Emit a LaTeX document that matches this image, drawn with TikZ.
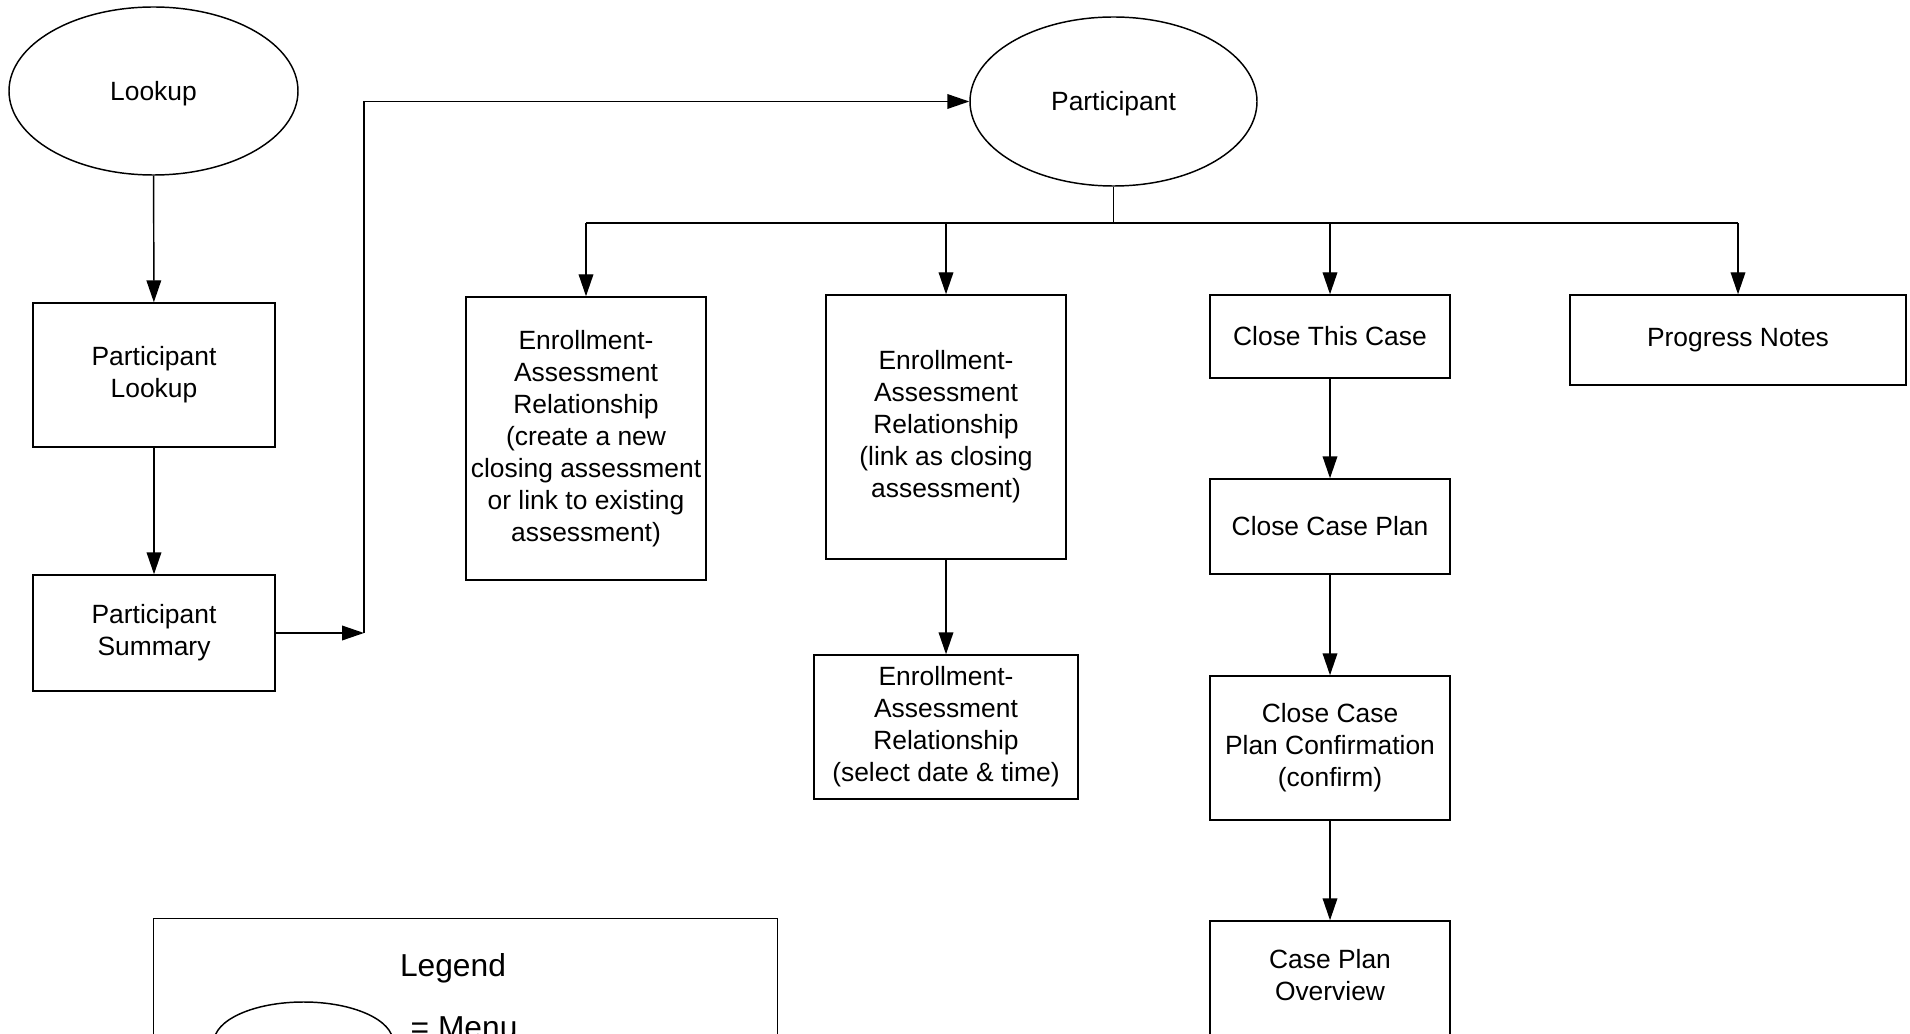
\documentclass[tikz,border=0pt]{standalone}
\usepackage{fontspec}
\setmainfont{Liberation Sans}
\usetikzlibrary{arrows.meta,shapes.geometric}
\begin{document}
\begin{tikzpicture}[x=0.75pt,y=-0.75pt,
  line width=1.1pt,
  txt/.style={font=\fontsize{19.8pt}{24pt}\selectfont, align=center, inner sep=0pt},
  sz/.style 2 args={minimum width=#1*0.75pt, minimum height=#2*0.75pt},
  box/.style={txt, draw, rectangle},
  menu/.style={txt, draw, ellipse, text height=14.2pt, text depth=0pt},
  arr/.style={-{Triangle[length=16.5pt,width=11pt]}}
]
\clip (0,0) rectangle (1910,1034);
\fill[white] (0,0) rectangle (1910,1034);

% left column
\node[menu, sz={289}{168}] (lookup) at (153.5,91) {Lookup};
\node[box, sz={242}{144}] (plookup) at (154,375) {Participant\\Lookup};
\node[box, sz={242}{116}] (psum) at (154,633) {Participant\\Summary};
\coordinate (turn) at (364,633);

% participant menu
\node[menu, sz={287}{169}] (part) at (1113.5,101.5) {Participant};

% branches
\node[box, sz={240}{283}] (ear1) at (586,438.5) {Enrollment-\\Assessment\\Relationship\\(create a new\\closing assessment\\or link to existing\\assessment)};
\node[box, sz={240}{264}] (ear2) at (946,427) {Enrollment-\\Assessment\\Relationship\\(link as closing\\assessment)};
\node[box, sz={264}{144}] (ear3) at (946,727) {Enrollment-\\Assessment\\Relationship\\(select date \& time)};
\node[box, sz={240}{83}] (close) at (1330,336.5) {Close This Case};
\node[box, sz={240}{95}] (ccp) at (1330,526.5) {Close Case Plan};
\node[box, sz={240}{144}] (ccpc) at (1330,748) {Close Case\\Plan Confirmation\\(confirm)};
\node[box, sz={240}{120}] (cpo) at (1330,981) {};
\node[txt] (cpotxt) at (1330,975) {Case Plan\\Overview};
\node[box, sz={336}{90}] (prog) at (1738,340) {Progress Notes};

% connectors
\draw[arr] (lookup) -- (plookup);
\draw[arr] (plookup) -- (psum);
\draw[arr] (psum.east) -- (turn);
\draw[arr] (turn) |- (part.west);

\coordinate (bus) at (1113.5,223);
\draw (part.south) -- (bus);
\draw (ear1.north |- bus) -- (prog.north |- bus);
\draw[arr] (ear1.north |- bus) -- (ear1.north);
\draw[arr] (ear2.north |- bus) -- (ear2.north);
\draw[arr] (close.north |- bus) -- (close.north);
\draw[arr] (prog.north |- bus) -- (prog.north);
\draw[arr] (ear2) -- (ear3);
\draw[arr] (close) -- (ccp);
\draw[arr] (ccp) -- (ccpc);
\draw[arr] (ccpc) -- (cpo);

% legend
\node[draw, rectangle, minimum width=624*0.75pt, minimum height=400*0.75pt, anchor=north west] (legend) at (153,918) {};
\node[txt, font=\fontsize{23.8pt}{28pt}\selectfont] (legendtitle) at (453,968) {Legend};
\node[draw, ellipse, sz={179}{80}] (legmenu) at (303.5,1042) {};
\node[txt, font=\fontsize{23.8pt}{28pt}\selectfont, anchor=west] (legmenutxt) at (410,1028) {= Menu};
\end{tikzpicture}
\end{document}
